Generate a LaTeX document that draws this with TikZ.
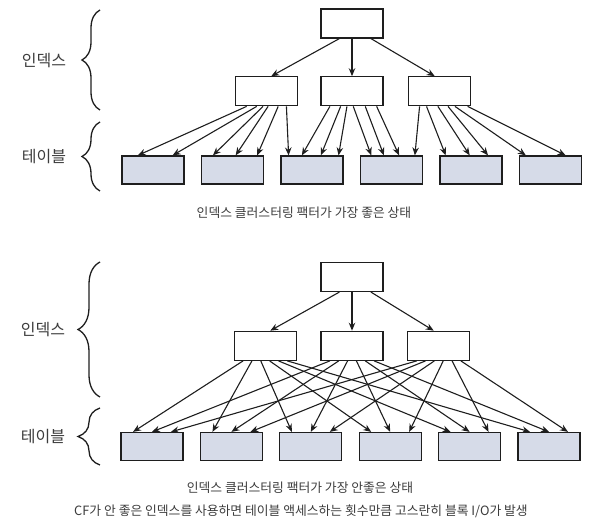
\documentclass[tikz,border=0pt]{standalone}
\usepackage{fontspec}
\setmainfont{Noto Sans CJK KR}
\usepackage{tikz}
\usetikzlibrary{arrows.meta, positioning, calc, decorations.pathreplacing}
\definecolor{cLeaf}{RGB}{214,219,232}
\definecolor{cLine}{RGB}{30,30,30}
\definecolor{cText}{RGB}{60,60,60}
\tikzset{
	idxblk/.style={rectangle, draw=cLine, line width=1.2pt, minimum width=62pt, minimum height=29pt, inner sep=0pt, fill=white},
	tblblk/.style={idxblk, fill=cLeaf, minimum height=28pt},
	ptr/.style={-{Stealth[length=8pt, width=6.5pt]}, line width=1.1pt, draw=cLine},
	grp/.style={decorate, decoration={brace, amplitude=#1}, line width=1.3pt, draw=cLine},
	grp/.default=18pt,
	lvl/.style={font=\fontsize{16}{18}\selectfont, text=cText},
	captxt/.style={font=\fontsize{12.8}{15}\selectfont, text=cText},
}

\begin{document}
\begin{tikzpicture}[x=1pt, y=-1pt]
	\useasboundingbox (0,0) rectangle (590,529);
	% best clustering factor
	\node[idxblk] (r1) at (352,23.5) {};
	\node[idxblk, below=37.6pt of r1] (m1b) {};
	\node[idxblk, left=22.6pt of m1b] (m1a) {};
	\node[idxblk, right=24.6pt of m1b] (m1c) {};
	\node[tblblk] (t1a) at (153,170) {};
	\node[tblblk, right=16.3pt of t1a] (t1b) {};
	\node[tblblk, right=16.3pt of t1b] (t1c) {};
	\node[tblblk, right=16.3pt of t1c] (t1d) {};
	\node[tblblk, right=16.3pt of t1d] (t1e) {};
	\node[tblblk, right=16.3pt of t1e] (t1f) {};
	\coordinate (b1top) at (100,10);
	\coordinate (b1mid) at (100,110);
	\coordinate (b1low) at (100,122);
	\coordinate (b1end) at (100,191);
	\draw[grp] (b1mid) -- (b1top);
	\draw[grp] (b1end) -- (b1low);
	\node[lvl] (i1) at (44,61) {인덱스};
	\node[lvl] (k1) at (44,157) {테이블};
	\draw[ptr] ($(r1.south west)!.3!(r1.south east)$) -- ($(m1a.north west)!.58!(m1a.north east)$);
	\draw[ptr] (r1) -- (m1b);
	\draw[ptr] ($(r1.south west)!.8!(r1.south east)$) -- ($(m1c.north west)!.42!(m1c.north east)$);
	\foreach \s/\f/\e/\t in {m1a/.19/t1a/.26, m1a/.35/t1a/.81, m1a/.45/t1b/.19, m1a/.53/t1b/.55, m1a/.69/t1b/.89, m1a/.82/t1c/.13,
			m1b/.15/t1c/.34, m1b/.32/t1c/.64, m1b/.42/t1c/.92, m1b/.52/t1d/.18, m1b/.71/t1d/.38, m1b/.89/t1d/.62,
			m1c/.18/t1d/.87, m1c/.29/t1e/.1, m1c/.47/t1e/.48, m1c/.63/t1e/.77, m1c/.74/t1f/.11, m1c/.94/t1f/.74}
		\draw[ptr] ($(\s.south west)!\f!(\s.south east)$) -- ($(\e.north west)!\t!(\e.north east)$);
	\node[captxt] (c1) at (304,213) {인덱스 클러스터링 팩터가 가장 좋은 상태};
	% worst clustering factor
	\node[idxblk] (r2) at (352,277) {};
	\node[idxblk, below=38.6pt of r2] (m2b) {};
	\node[idxblk, left=23.6pt of m2b] (m2a) {};
	\node[idxblk, right=23.6pt of m2b] (m2c) {};
	\node[tblblk] (t2a) at (152,446.5) {};
	\node[tblblk, right=16.2pt of t2a] (t2b) {};
	\node[tblblk, right=16.2pt of t2b] (t2c) {};
	\node[tblblk, right=16.2pt of t2c] (t2d) {};
	\node[tblblk, right=16.2pt of t2d] (t2e) {};
	\node[tblblk, right=16.2pt of t2e] (t2f) {};
	\coordinate (b2top) at (100,262);
	\coordinate (b2mid) at (100,397);
	\coordinate (b2low) at (100,408);
	\coordinate (b2end) at (100,465);
	\draw[grp=22pt] (b2mid) -- (b2top);
	\draw[grp=22pt] (b2end) -- (b2low);
	\node[lvl] (i2) at (43,330) {인덱스};
	\node[lvl] (k2) at (43,437) {테이블};
	\draw[ptr] ($(r2.south west)!.3!(r2.south east)$) -- ($(m2a.north west)!.58!(m2a.north east)$);
	\draw[ptr] (r2) -- (m2b);
	\draw[ptr] ($(r2.south west)!.8!(r2.south east)$) -- ($(m2c.north west)!.42!(m2c.north east)$);
	\foreach \s/\t in {m2a/.2, m2b/.5, m2c/.8}
		\foreach \e [count=\j from 0] in {t2a, t2b, t2c, t2d, t2e, t2f}
			\draw[ptr] ($(\s.south west)!{0.15+0.14*\j}!(\s.south east)$) -- ($(\e.north west)!\t!(\e.north east)$);
	\node[captxt] (c2) at (300,488) {인덱스 클러스터링 팩터가 가장 안좋은 상태};
	\node[captxt] (c3) at (301,511) {CF가 안 좋은 인덱스를 사용하면 테이블 액세스하는 횟수만큼 고스란히 블록 I/O가 발생};
\end{tikzpicture}
\end{document}
